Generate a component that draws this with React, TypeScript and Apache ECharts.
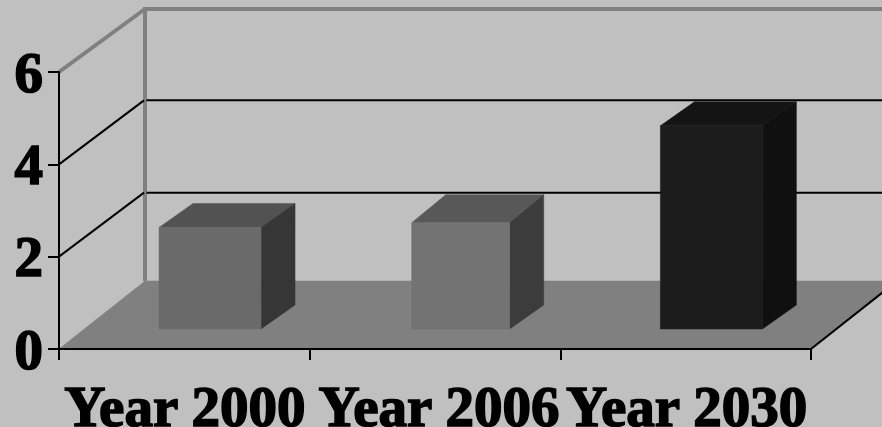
import React, { useEffect, useRef } from "react";
import * as echarts from "echarts";

const categories = ["Year 2000", "Year 2006", "Year 2030"];
const values = [2.2, 2.3, 4.4];
const yTicks = [0, 2, 4, 6];

const FONT = { fontFamily: "Liberation Serif", fontWeight: "bold" as const, fontSize: 57, color: "#000", textBorderColor: "#000", textBorderWidth: 1.6, lineHeight: 38 };
const BACK = { dx: 86, dy: -64 };
const FLOOR_DY = -68;
const labelNudge = [1, 8, 2];
const barLook = [
  { front: "#6a6a6a", top: "#525252", side: "#363636", half: 51, rise: 24 },
  { front: "#737373", top: "#585858", side: "#3c3c3c", half: 49, rise: 28 },
  { front: "#1c1c1c", top: "#141414", side: "#101010", half: 51, rise: 24 },
];
const BAR_OFFSET = { dx: 25.7, dy: -20 };
const BAR_DEPTH = { dx: 34, bottomRise: 24 };

function poly(points: number[][], fill: string) {
  return { type: "polygon", shape: { points }, style: { fill, stroke: fill, lineWidth: 0.5 }, silent: true };
}

export default function App() {
  const ref = useRef<HTMLDivElement>(null);
  useEffect(() => {
    document.body.style.margin = "0";
    const chart = echarts.init(ref.current!, null, { renderer: "svg" });
    chart.setOption({
      animation: false,
      backgroundColor: "#c0c0c0",
      grid: { left: 59, right: 71, top: 72, bottom: 78, outerBoundsMode: "none", containLabel: false },
      xAxis: {
        type: "category",
        data: categories.map((c, i) => ({ value: c, textStyle: { padding: [0, 0, 0, labelNudge[i]] } })),
        z: 10,
        axisLine: { lineStyle: { color: "#000", width: 2 } },
        axisTick: { show: true, length: 11, alignWithLabel: false, lineStyle: { color: "#000", width: 2 } },
        axisLabel: { ...FONT, interval: 0, margin: 38, hideOverlap: false },
        splitLine: { show: false },
      },
      yAxis: {
        type: "value",
        min: 0,
        max: 6,
        interval: 2,
        z: 10,
        axisLine: { show: true, lineStyle: { color: "#000", width: 2 } },
        axisTick: { show: true, length: 11, lineStyle: { color: "#000", width: 2 } },
        axisLabel: { ...FONT, margin: 16 },
        splitLine: { show: false },
      },
      series: [
        {
          type: "custom",
          name: "floor",
          z: 1,
          data: [0],
          silent: true,
          renderItem: (params: any, api: any) => {
            const cs = params.coordSys;
            const y0 = api.coord([0, 0])[1];
            const left = cs.x;
            const right = cs.x + cs.width;
            return {
              type: "group",
              children: [
                poly([[left, y0], [left + BACK.dx, y0 + FLOOR_DY], [right + BACK.dx, y0 + FLOOR_DY], [right, y0]], "#808080"),
                {
                  type: "line",
                  shape: { x1: right, y1: y0, x2: right + BACK.dx, y2: y0 + FLOOR_DY },
                  style: { stroke: "#000", lineWidth: 2 },
                },
                {
                  type: "line",
                  shape: { x1: left + BACK.dx, y1: y0 + FLOOR_DY, x2: left + BACK.dx, y2: api.coord([0, 6])[1] + BACK.dy },
                  style: { stroke: "#808080", lineWidth: 4 },
                },
              ],
            };
          },
        },
        {
          type: "custom",
          name: "walls",
          z: 2,
          data: yTicks.filter((t) => t > 0),
          encode: { y: 0 },
          silent: true,
          renderItem: (params: any, api: any) => {
            const cs = params.coordSys;
            const v = api.value(0);
            const y = api.coord([0, v])[1];
            const x = cs.x;
            const isTop = v === 6;
            const color = isTop ? "#808080" : "#000";
            const w = isTop ? 4 : 2;
            const by = y + BACK.dy + (isTop ? 1 : 0);
            return {
              type: "group",
              children: [
                { type: "line", shape: { x1: x, y1: y, x2: x + BACK.dx - (isTop ? 0 : 1), y2: by }, style: { stroke: color, lineWidth: w } },
                { type: "line", shape: { x1: x + BACK.dx + (isTop ? -2 : 1.5), y1: by, x2: cs.x + cs.width + BACK.dx, y2: by }, style: { stroke: color, lineWidth: w } },
              ],
            };
          },
        },
        {
          type: "custom",
          name: "bars",
          z: 3,
          data: values.map((v, i) => [i, v]),
          encode: { x: 0, y: 1 },
          renderItem: (params: any, api: any) => {
            const i = api.value(0);
            const v = api.value(1);
            const look = barLook[params.dataIndex];
            const base = api.coord([i, 0]);
            const top = api.coord([i, v]);
            const xl = base[0] + BAR_OFFSET.dx - look.half;
            const xr = base[0] + BAR_OFFSET.dx + look.half;
            const yb = base[1] + BAR_OFFSET.dy;
            const yt = top[1] + BAR_OFFSET.dy;
            const d = BAR_DEPTH.dx;
            return {
              type: "group",
              children: [
                poly([[xl, yt], [xl + d, yt - look.rise], [xr + d, yt - look.rise], [xr, yt]], look.top),
                poly([[xr, yt], [xr + d, yt - look.rise], [xr + d, yb - BAR_DEPTH.bottomRise], [xr, yb]], look.side),
                poly([[xl, yt], [xr, yt], [xr, yb], [xl, yb]], look.front),
              ],
            };
          },
        },
      ],
    });
    return () => chart.dispose();
  }, []);
  return <div ref={ref} style={{ position: "fixed", left: 0, top: 0, width: 882, height: 427 }} />;
}
